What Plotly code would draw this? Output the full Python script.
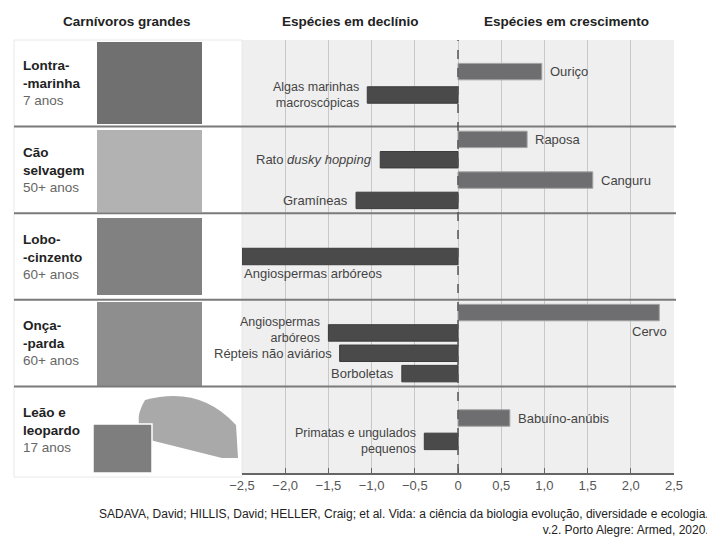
import plotly.graph_objects as go

# data
carnivores = ["Lontra-<br>-marinha", "Cão<br>selvagem", "Lobo-<br>-cinzento", "Onça-<br>-parda", "Leão e<br>leopardo"]
years = ["7 anos", "50+ anos", "60+ anos", "60+ anos", "17 anos"]

species = ["Ouriço", "Algas marinhas<br>macroscópicas",
           "Raposa", "Rato <i>dusky hopping</i>", "Canguru", "Gramíneas",
           "Angiospermas arbóreos",
           "Cervo", "Angiospermas<br>arbóreos", "Répteis não aviários", "Borboletas",
           "Babuíno-anúbis", "Primatas e ungulados<br>pequenos"]
change = [0.97, -1.05, 0.80, -0.90, 1.56, -1.18, -2.50, 2.33, -1.50, -1.37, -0.65, 0.60, -0.39]
predator = [0, 0, 1, 1, 1, 1, 2, 3, 3, 3, 3, 4, 4]

tick_vals = [-2.5, -2.0, -1.5, -1.0, -0.5, 0, 0.5, 1.0, 1.5, 2.0, 2.5]
tick_text = ["−2,5", "−2,0", "−1,5", "−1,0", "−0,5", "0", "0,5", "1,0", "1,5", "2,0", "2,5"]

source = ("SADAVA, David; HILLIS, David; HELLER, Craig; et al. Vida: a ciência da biologia evolução, diversidade e ecologia.<br>"
          "v.2. Porto Alegre: Armed, 2020.")

# rows centred in each predator band
ypos = []
for i, g in enumerate(predator):
    n = predator.count(g)
    k = predator[:i].count(g)
    step = min(0.27, 0.94 / n)
    ypos.append(g + 0.5 + (k - (n - 1) / 2) * step)

# page has an 8px body margin, so the figure starts at (8, 8)
OX = OY = 8
W, H = 715 - OX, 537 - OY
L, T = 242 - OX, 40 - OY
R, B = W - (674 - OX), H - (473 - OY)
pw = W - L - R
ph = H - T - B


def px(x):
    # reference pixel -> paper x
    return (x - OX - L) / pw


def py(y):
    # reference pixel -> paper y
    return 1 - (y - OY - T) / ph


FONT = "Liberation Sans, Arial, sans-serif"

fig = go.Figure()
fig.add_trace(go.Bar(
    x=change, y=ypos, orientation="h", width=0.19,
    marker=dict(color=["#4a4a4a" if v < 0 else "#6e6e70" for v in change],
                line=dict(color=["#3c3c3c" if v < 0 else "#a3a3a3" for v in change], width=1)),
    hoverinfo="x", showlegend=False,
))

ann = []
# bar labels
for i, (s, v, y) in enumerate(zip(species, change, ypos)):
    two_lines = "<br>" in s
    a = dict(x=v, y=y, text=s, showarrow=False, align="right" if v < 0 else "left",
             font=dict(family=FONT, size=12.5 if two_lines else 13, color="#444"))
    if i == 6:
        a.update(xanchor="left", xshift=0, yshift=-17)
    elif i == 7:
        a.update(xanchor="right", xshift=10, yshift=-19)
    elif v < 0:
        a.update(xanchor="right", xshift=-6)
    else:
        a.update(xanchor="left", xshift=6)
    if i == 8:
        a.update(yshift=3)
    ann.append(a)

# predator names
for g, (c, yr) in enumerate(zip(carnivores, years)):
    ann.append(dict(xref="paper", yref="y", x=px(21), y=g + 0.5, xanchor="left", yanchor="middle",
                    text="<b>" + c + "</b><br><span style='color:#666'>" + yr + "</span>",
                    align="left", showarrow=False,
                    font=dict(family=FONT, size=13.5, color="#222")))

# headers
for text, cx in [("Carnívoros grandes", 127), ("Espécies em declínio", 350), ("Espécies em crescimento", 566)]:
    ann.append(dict(xref="paper", yref="paper", x=px(cx), y=py(22), text="<b>" + text + "</b>",
                    showarrow=False, xanchor="center", yanchor="middle",
                    font=dict(family=FONT, size=13.5, color="#222")))

ann.append(dict(xref="paper", yref="paper", x=px(711), y=py(522), text=source, align="right",
                showarrow=False, xanchor="right", yanchor="middle",
                font=dict(family=FONT, size=12, color="#222")))

shapes = []
# left white panel
shapes.append(dict(type="rect", xref="paper", yref="paper", x0=px(14), x1=px(242), y0=py(40), y1=py(477),
                   fillcolor="white", line=dict(color="#e8e8e8", width=1), layer="below"))

# photo placeholders
photos = [(97, 42, 202, 124, "#707070"), (97, 130, 202, 212, "#b2b2b2"), (97, 218, 202, 295, "#818181"),
          (97, 302, 202, 387, "#8e8e8e")]
for x0, y0, x1, y1, col in photos:
    shapes.append(dict(type="rect", xref="paper", yref="paper", x0=px(x0), x1=px(x1), y0=py(y0), y1=py(y1),
                       fillcolor=col, line=dict(width=0)))
shapes.append(dict(type="path", xref="paper", yref="paper",
                   path="M {},{} Q {},{} {},{} L {},{} L {},{} L {},{} Q {},{} {},{} Z".format(
                       px(145), py(400), px(200), py(385), px(236), py(425),
                       px(238), py(458), px(222), py(458), px(150), py(440),
                       px(130), py(425), px(145), py(400)),
                   fillcolor="#a9a9a9", line=dict(width=0)))
shapes.append(dict(type="rect", xref="paper", yref="paper", x0=px(93), x1=px(152), y0=py(424), y1=py(473),
                   fillcolor="#7e7e7e", line=dict(color="white", width=1.5)))

# band separators
for g in range(1, len(carnivores)):
    yb = 40 + (473 - 40) * g / len(carnivores)
    shapes.append(dict(type="line", xref="paper", yref="paper", x0=px(14), x1=px(676), y0=py(yb), y1=py(yb),
                       line=dict(color="#7a7a7a", width=2)))

# dashed zero line
shapes.append(dict(type="line", xref="x", yref="paper", x0=0, x1=0, y0=0, y1=1,
                   line=dict(color="#555", width=1.5, dash="dash")))

fig.update_layout(
    width=W, height=H,
    margin=dict(l=L, r=R, t=T, b=B),
    paper_bgcolor="white", plot_bgcolor="#efefef",
    annotations=ann, shapes=shapes,
    xaxis=dict(range=[-2.5, 2.5], tickvals=tick_vals, ticktext=tick_text, showgrid=True,
               gridcolor="#c8c8c8", gridwidth=1, zeroline=False, showline=True, linecolor="#666",
               linewidth=1.5, ticks="inside", ticklen=5, tickcolor="#666",
               tickfont=dict(family=FONT, size=13, color="#555")),
    yaxis=dict(range=[len(carnivores), 0], showgrid=False, zeroline=False, showticklabels=False,
               ticks=""),
    font=dict(family=FONT),
)

fig.write_html("out.html")
